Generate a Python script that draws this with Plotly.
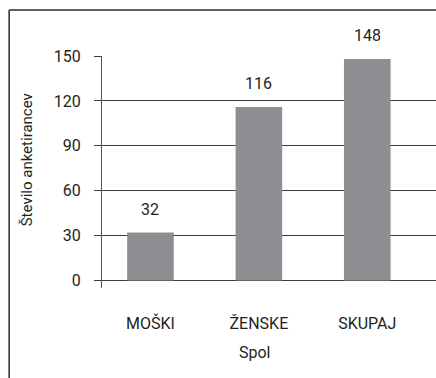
import plotly.graph_objects as go

# Respondents by gender
categories = ["MOŠKI", "ŽENSKE", "SKUPAJ"]
counts = [32, 116, 148]
y_ticks = [0, 30, 60, 90, 120, 150]

FONT = "Roboto, Liberation Sans, sans-serif"
FSIZE = 16
TEXT = "#231f20"
LINE = "#3c3c3c"


def text_font(size=FSIZE):
    return dict(family=FONT, size=size, color=TEXT)


fig = go.Figure(
    go.Bar(
        x=categories,
        y=counts,
        width=0.43,
        marker=dict(color="#8d8e92", line=dict(width=0)),
        hoverinfo="skip",
    )
)

# value labels above each bar
for cat, val in zip(categories, counts):
    fig.add_annotation(
        x=cat, y=val, text=str(val), showarrow=False,
        yanchor="bottom", yshift=12,
        font=text_font(),
    )

# axis titles
fig.add_annotation(
    xref="paper", yref="paper", x=-0.2235, y=0.552,
    text="Število anketirancev", textangle=-90, showarrow=False,
    xanchor="center", yanchor="middle",
    font=text_font(15),
)
fig.add_annotation(
    xref="paper", yref="paper", x=0.457, y=-0.28,
    text="Spol", showarrow=False, xanchor="center", yanchor="middle",
    font=text_font(),
)

# outer frame (left and top edges)
fig.add_shape(type="line", xref="paper", yref="paper",
              x0=-0.278, x1=-0.278, y0=1.198, y1=-0.5,
              line=dict(color="#2a2a2a", width=1.5))
fig.add_shape(type="line", xref="paper", yref="paper",
              x0=-0.278, x1=1.05, y0=1.198, y1=1.198,
              line=dict(color="#2a2a2a", width=1.5))

fig.update_layout(
    width=436, height=378,
    margin=dict(l=102, r=0, t=56, b=90, autoexpand=False),
    paper_bgcolor="white", plot_bgcolor="white",
    showlegend=False,
    font=text_font(),
    xaxis=dict(
        type="category", range=[-0.447, 2.634],
        showgrid=False, zeroline=False, showline=False, ticks="",
        ticklabelstandoff=24,
        tickfont=text_font(),
        fixedrange=True,
    ),
    yaxis=dict(
        range=[-5, 150], tickvals=y_ticks,
        showgrid=True, gridcolor=LINE, gridwidth=1,
        zeroline=False,
        showline=True, linecolor="#555555", linewidth=1,
        ticks="outside", ticklen=7, tickcolor=LINE, tickwidth=1,
        ticklabelstandoff=10,
        tickfont=text_font(),
        fixedrange=True,
    ),
)

fig.write_html("out.html")
